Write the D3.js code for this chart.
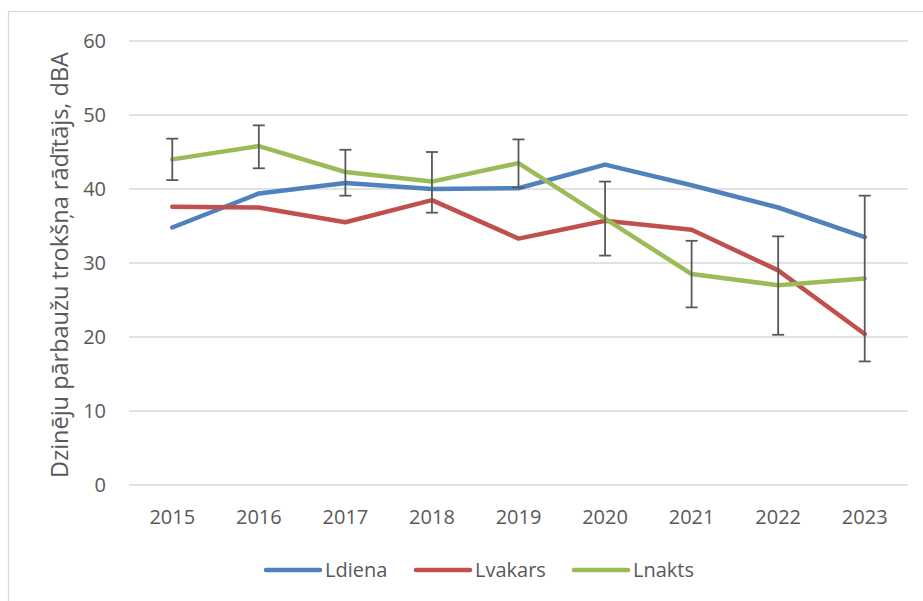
<!DOCTYPE html>
<html>
<head>
<meta charset="utf-8">
<script src="https://cdn.jsdelivr.net/npm/d3@7"></script>
<style>
  html, body { margin: 0; padding: 0; background: #fff; }
  svg { display: block; }
</style>
</head>
<body>
<svg id="chart" width="923" height="601"></svg>
<script>
const years = ["2015","2016","2017","2018","2019","2020","2021","2022","2023"];
const seriesNames = ["Ldiena","Lvakars","Lnakts"];
const ldiena  = [34.8, 39.4, 40.8, 40.0, 40.1, 43.3, 40.5, 37.5, 33.5];
const lvakars = [37.6, 37.5, 35.5, 38.5, 33.3, 35.7, 34.5, 29.0, 20.4];
const lnakts  = [44.0, 45.8, 42.3, 41.0, 43.5, 36.0, 28.5, 27.0, 27.9];
const lnaktsErrLow  = [41.2, 42.8, 39.1, 36.8, 40.2, 31.0, 24.0, 20.3, 16.7];
const lnaktsErrHigh = [46.8, 48.6, 45.3, 45.0, 46.7, 41.0, 33.0, 33.6, 39.1];
const yTicks = [0, 10, 20, 30, 40, 50, 60];
const colors = ["#4F81BD", "#C0504D", "#9BBB59"];
const yTitle = "Dzinēju pārbaužu trokšņa rādītājs, dBA";

const svg = d3.select("#chart");
const font = "'Open Sans', 'Noto Sans', sans-serif";

// outer border
svg.append("rect").attr("x", 8.5).attr("y", 11.5).attr("width", 930).attr("height", 610)
  .attr("fill", "none").attr("stroke", "#d9d9d9").attr("stroke-width", 1.2);

const x = d3.scaleBand().domain(years).range([129, 908]);
const y = d3.scaleLinear().domain([0, 60]).range([485, 41]);

// gridlines
svg.append("g").selectAll("line").data(yTicks).join("line")
  .attr("x1", 129).attr("x2", 908)
  .attr("y1", d => y(d)).attr("y2", d => y(d))
  .attr("stroke", "#d9d9d9").attr("stroke-width", 1.3);

// y axis
const yAxis = svg.append("g").attr("transform", "translate(129,0)")
  .call(d3.axisLeft(y).tickValues(yTicks).tickSize(0).tickPadding(23));
yAxis.select(".domain").remove();
yAxis.selectAll("text").attr("font-family", font).attr("font-size", 20).attr("fill", "#595959");

// x axis
const xAxis = svg.append("g").attr("transform", "translate(0,485)")
  .call(d3.axisBottom(x).tickSize(0).tickPadding(25));
xAxis.select(".domain").remove();
xAxis.selectAll("text").attr("font-family", font).attr("font-size", 20).attr("fill", "#595959");

// y title
svg.append("text")
  .attr("transform", "translate(68,265) rotate(-90)")
  .attr("text-anchor", "middle")
  .attr("font-family", font).attr("font-size", 23.5).attr("fill", "#595959")
  .text(yTitle);

const cx = d => x(d) + x.bandwidth() / 2;
const data = [ldiena, lvakars, lnakts];
const line = d3.line().x((d, i) => cx(years[i])).y(d => y(d));

data.forEach((vals, k) => {
  svg.append("path").datum(vals)
    .attr("d", line)
    .attr("fill", "none")
    .attr("stroke", colors[k])
    .attr("stroke-width", 4.5)
    .attr("stroke-linejoin", "round")
    .attr("stroke-linecap", "round");
});

// error bars on Lnakts
const eb = svg.append("g").attr("stroke", "#595959").attr("stroke-width", 1.8);
years.forEach((yr, i) => {
  const xc = cx(yr);
  eb.append("line").attr("x1", xc).attr("x2", xc).attr("y1", y(lnaktsErrLow[i])).attr("y2", y(lnaktsErrHigh[i]));
  eb.append("line").attr("x1", xc - 6).attr("x2", xc + 6).attr("y1", y(lnaktsErrLow[i])).attr("y2", y(lnaktsErrLow[i]));
  eb.append("line").attr("x1", xc - 6).attr("x2", xc + 6).attr("y1", y(lnaktsErrHigh[i])).attr("y2", y(lnaktsErrHigh[i]));
});

// legend
const legendX = [266, 416, 574];
const leg = svg.append("g");
seriesNames.forEach((name, k) => {
  leg.append("line").attr("x1", legendX[k]).attr("x2", legendX[k] + 54)
    .attr("y1", 570).attr("y2", 570)
    .attr("stroke", colors[k]).attr("stroke-width", 4.5).attr("stroke-linecap", "round");
  leg.append("text").attr("x", legendX[k] + 59).attr("y", 577)
    .attr("font-family", font).attr("font-size", 20).attr("fill", "#595959")
    .text(name);
});
</script>
</body>
</html>
